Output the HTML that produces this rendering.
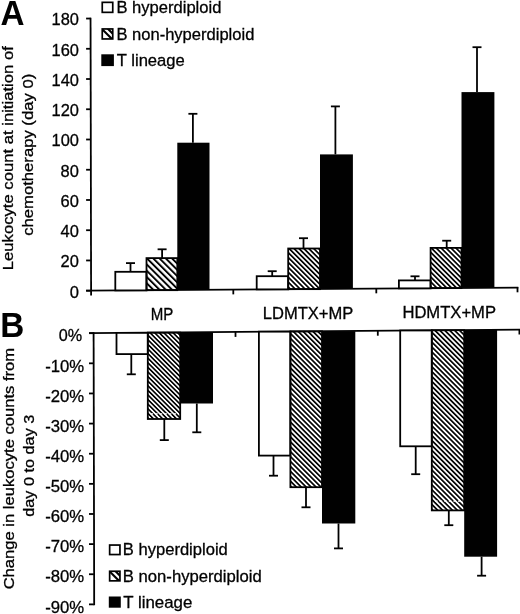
<!DOCTYPE html>
<html><head><meta charset="utf-8"><title>Figure</title>
<style>
html,body{margin:0;padding:0;background:#fff;}
body{width:520px;height:614px;overflow:hidden;}
svg{display:block;}
text{font-family:"Liberation Sans",sans-serif;font-size:16.3px;fill:#000;stroke:#000;stroke-width:0.3px;}
.big{font-size:36px;font-weight:bold;fill:#000;stroke:none;}
</style></head><body>
<svg width="520" height="614" viewBox="0 0 520 614">
<defs>
<pattern id="h" width="3.25" height="3.25" patternUnits="userSpaceOnUse" patternTransform="rotate(-45)"><rect x="0" y="0" width="1.65" height="3.25" fill="#000"/></pattern>
<pattern id="h2" width="3.48" height="3.48" patternUnits="userSpaceOnUse" patternTransform="rotate(-45)"><rect x="0" y="0" width="1.7" height="3.48" fill="#000"/></pattern>
<pattern id="h3" width="4.43" height="4.43" patternUnits="userSpaceOnUse" patternTransform="rotate(-45)"><rect x="0" y="0" width="1.95" height="4.43" fill="#000"/></pattern>
<pattern id="hs" width="3.6" height="3.6" patternUnits="userSpaceOnUse" patternTransform="rotate(-45) translate(0.6,0)"><rect x="0" y="0" width="1.7" height="3.6" fill="#000"/></pattern>
</defs>
<rect width="520" height="614" fill="#fff"/>
<g opacity="0.999">

<g stroke="#000" stroke-width="1.8" fill="none">
<line x1="90.55" y1="17.640000000000022" x2="91.1" y2="295.4"/>
<line x1="86.1" y1="290.7" x2="90.8" y2="290.7"/>
<line x1="86.1" y1="260.46" x2="90.8" y2="260.46"/>
<line x1="86.1" y1="230.22" x2="90.8" y2="230.22"/>
<line x1="86.1" y1="199.98" x2="90.8" y2="199.98"/>
<line x1="86.1" y1="169.74" x2="90.8" y2="169.74"/>
<line x1="86.1" y1="139.5" x2="90.8" y2="139.5"/>
<line x1="86.1" y1="109.25999999999999" x2="90.8" y2="109.25999999999999"/>
<line x1="86.1" y1="79.02000000000001" x2="90.8" y2="79.02000000000001"/>
<line x1="86.1" y1="48.78" x2="90.8" y2="48.78"/>
<line x1="86.1" y1="18.54000000000002" x2="90.8" y2="18.54000000000002"/>
<line x1="86.1" y1="290.7" x2="518.3" y2="287.60"/>
<line x1="233.3" y1="289.17" x2="233.3" y2="294.37"/>
<line x1="376.3" y1="288.13" x2="376.3" y2="293.33"/>
<line x1="517.5" y1="287.11" x2="517.5" y2="292.31"/>
</g>
<g stroke="#000" stroke-width="1.8"><line x1="130.5" y1="263.1" x2="130.5" y2="271.8"/><line x1="126.0" y1="263.1" x2="135.0" y2="263.1"/></g><rect x="115.3" y="271.8" width="31.20" height="18.61" fill="#fff" stroke="#000" stroke-width="1.8"/>
<g stroke="#000" stroke-width="1.8"><line x1="162.1" y1="249.3" x2="162.1" y2="258.1"/><line x1="157.6" y1="249.3" x2="166.6" y2="249.3"/></g><rect x="146.5" y="258.1" width="30.80" height="32.08" fill="url(#h3)" stroke="#000" stroke-width="1.8"/>
<g stroke="#000" stroke-width="1.8"><line x1="192.9" y1="113.8" x2="192.9" y2="142.7"/><line x1="188.4" y1="113.8" x2="197.4" y2="113.8"/></g><rect x="177.3" y="142.7" width="32.20" height="147.26" fill="#000" stroke="none" stroke-width="1.8"/>
<g stroke="#000" stroke-width="1.8"><line x1="272.2" y1="271.2" x2="272.2" y2="276.2"/><line x1="267.7" y1="271.2" x2="276.7" y2="271.2"/></g><rect x="256.7" y="276.2" width="31.50" height="13.18" fill="#fff" stroke="#000" stroke-width="1.8"/>
<g stroke="#000" stroke-width="1.8"><line x1="303.5" y1="238.2" x2="303.5" y2="248.5"/><line x1="299.0" y1="238.2" x2="308.0" y2="238.2"/></g><rect x="288.2" y="248.5" width="31.80" height="40.65" fill="url(#h2)" stroke="#000" stroke-width="1.8"/>
<g stroke="#000" stroke-width="1.8"><line x1="335.4" y1="106.4" x2="335.4" y2="154.4"/><line x1="330.9" y1="106.4" x2="339.9" y2="106.4"/></g><rect x="320" y="154.4" width="32.90" height="134.52" fill="#000" stroke="none" stroke-width="1.8"/>
<g stroke="#000" stroke-width="1.8"><line x1="415" y1="276.3" x2="415" y2="280.4"/><line x1="410.5" y1="276.3" x2="419.5" y2="276.3"/></g><rect x="398.9" y="280.4" width="31.70" height="7.95" fill="#fff" stroke="#000" stroke-width="1.8"/>
<g stroke="#000" stroke-width="1.8"><line x1="446.7" y1="240.7" x2="446.7" y2="247.9"/><line x1="442.2" y1="240.7" x2="451.2" y2="240.7"/></g><rect x="430.6" y="247.9" width="30.90" height="40.22" fill="url(#h2)" stroke="#000" stroke-width="1.8"/>
<g stroke="#000" stroke-width="1.8"><line x1="477" y1="47.2" x2="477" y2="92.1"/><line x1="472.5" y1="47.2" x2="481.5" y2="47.2"/></g><rect x="461.5" y="92.1" width="32.90" height="195.79" fill="#000" stroke="none" stroke-width="1.8"/>
<text x="78.9" y="297.6" text-anchor="end" textLength="9.2" lengthAdjust="spacingAndGlyphs">0</text>
<text x="78.9" y="267.4" text-anchor="end" textLength="18.3" lengthAdjust="spacingAndGlyphs">20</text>
<text x="78.9" y="237.1" text-anchor="end" textLength="18.3" lengthAdjust="spacingAndGlyphs">40</text>
<text x="78.9" y="206.9" text-anchor="end" textLength="18.3" lengthAdjust="spacingAndGlyphs">60</text>
<text x="78.9" y="176.6" text-anchor="end" textLength="18.3" lengthAdjust="spacingAndGlyphs">80</text>
<text x="78.9" y="146.4" text-anchor="end" textLength="27.4" lengthAdjust="spacingAndGlyphs">100</text>
<text x="78.9" y="116.2" text-anchor="end" textLength="27.4" lengthAdjust="spacingAndGlyphs">120</text>
<text x="78.9" y="85.9" text-anchor="end" textLength="27.4" lengthAdjust="spacingAndGlyphs">140</text>
<text x="78.9" y="55.7" text-anchor="end" textLength="27.4" lengthAdjust="spacingAndGlyphs">160</text>
<text x="78.9" y="25.4" text-anchor="end" textLength="27.4" lengthAdjust="spacingAndGlyphs">180</text>
<g stroke="#000" stroke-width="1.8" fill="none">
<line x1="93.60000000000001" y1="332.3" x2="94.2" y2="605.27"/>
<line x1="89.0" y1="333.2" x2="93.9" y2="333.2"/>
<line x1="89.0" y1="363.33" x2="93.9" y2="363.33"/>
<line x1="89.0" y1="393.46" x2="93.9" y2="393.46"/>
<line x1="89.0" y1="423.59" x2="93.9" y2="423.59"/>
<line x1="89.0" y1="453.71999999999997" x2="93.9" y2="453.71999999999997"/>
<line x1="89.0" y1="483.85" x2="93.9" y2="483.85"/>
<line x1="89.0" y1="513.98" x2="93.9" y2="513.98"/>
<line x1="89.0" y1="544.11" x2="93.9" y2="544.11"/>
<line x1="89.0" y1="574.24" x2="93.9" y2="574.24"/>
<line x1="89.0" y1="604.37" x2="93.9" y2="604.37"/>
<line x1="89.0" y1="333.2" x2="520" y2="329.59"/>
<line x1="235.5" y1="331.50" x2="235.5" y2="336.90"/>
<line x1="377.8" y1="330.30" x2="377.8" y2="335.70"/>
<line x1="519.4" y1="329.10" x2="519.4" y2="334.50"/>
</g>
<g stroke="#000" stroke-width="1.8"><line x1="131.3" y1="354.1" x2="131.3" y2="374.3"/><line x1="126.80000000000001" y1="374.3" x2="135.8" y2="374.3"/></g><rect x="116.5" y="332.88" width="31.30" height="21.22" fill="#fff" stroke="#000" stroke-width="1.8"/>
<g stroke="#000" stroke-width="1.8"><line x1="164.3" y1="419" x2="164.3" y2="440.1"/><line x1="159.8" y1="440.1" x2="168.8" y2="440.1"/></g><rect x="147.8" y="332.61" width="32.40" height="86.39" fill="url(#h)" stroke="#000" stroke-width="1.8"/>
<g stroke="#000" stroke-width="1.8"><line x1="196.8" y1="403.5" x2="196.8" y2="432.3"/><line x1="192.3" y1="432.3" x2="201.3" y2="432.3"/></g><rect x="180.2" y="332.33" width="32.80" height="71.17" fill="#000" stroke="none" stroke-width="1.8"/>
<g stroke="#000" stroke-width="1.8"><line x1="273.5" y1="455.6" x2="273.5" y2="475.7"/><line x1="269.0" y1="475.7" x2="278.0" y2="475.7"/></g><rect x="258.9" y="331.67" width="31.50" height="123.93" fill="#fff" stroke="#000" stroke-width="1.8"/>
<g stroke="#000" stroke-width="1.8"><line x1="306" y1="487.2" x2="306" y2="507.3"/><line x1="301.5" y1="507.3" x2="310.5" y2="507.3"/></g><rect x="290.4" y="331.40" width="31.60" height="155.80" fill="url(#h2)" stroke="#000" stroke-width="1.8"/>
<g stroke="#000" stroke-width="1.8"><line x1="338.5" y1="523.5" x2="338.5" y2="548.4"/><line x1="334.0" y1="548.4" x2="343.0" y2="548.4"/></g><rect x="322" y="331.13" width="33.30" height="192.37" fill="#000" stroke="none" stroke-width="1.8"/>
<g stroke="#000" stroke-width="1.8"><line x1="415.7" y1="446.3" x2="415.7" y2="474.2"/><line x1="411.2" y1="474.2" x2="420.2" y2="474.2"/></g><rect x="400.2" y="330.47" width="31.60" height="115.83" fill="#fff" stroke="#000" stroke-width="1.8"/>
<g stroke="#000" stroke-width="1.8"><line x1="448.8" y1="510.4" x2="448.8" y2="525.2"/><line x1="444.3" y1="525.2" x2="453.3" y2="525.2"/></g><rect x="431.8" y="330.20" width="32.40" height="180.20" fill="url(#h2)" stroke="#000" stroke-width="1.8"/>
<g stroke="#000" stroke-width="1.8"><line x1="481.6" y1="556.7" x2="481.6" y2="575.7"/><line x1="477.1" y1="575.7" x2="486.1" y2="575.7"/></g><rect x="464.2" y="329.92" width="32.90" height="226.78" fill="#000" stroke="none" stroke-width="1.8"/>
<g stroke="#fff" stroke-width="1.3" stroke-dasharray="2.6 2"><line x1="150.5" y1="413.8" x2="179" y2="413.8"/><line x1="435" y1="501.2" x2="463" y2="501.2"/></g>
<text x="82.2" y="341.4" text-anchor="end" textLength="23.4" lengthAdjust="spacingAndGlyphs">0%</text>
<text x="84.2" y="371.5" text-anchor="end" textLength="39.0" lengthAdjust="spacingAndGlyphs">-10%</text>
<text x="84.2" y="401.7" text-anchor="end" textLength="39.0" lengthAdjust="spacingAndGlyphs">-20%</text>
<text x="84.2" y="431.8" text-anchor="end" textLength="39.0" lengthAdjust="spacingAndGlyphs">-30%</text>
<text x="84.2" y="461.9" text-anchor="end" textLength="39.0" lengthAdjust="spacingAndGlyphs">-40%</text>
<text x="84.2" y="492.1" text-anchor="end" textLength="39.0" lengthAdjust="spacingAndGlyphs">-50%</text>
<text x="84.2" y="522.2" text-anchor="end" textLength="39.0" lengthAdjust="spacingAndGlyphs">-60%</text>
<text x="84.2" y="552.3" text-anchor="end" textLength="39.0" lengthAdjust="spacingAndGlyphs">-70%</text>
<text x="84.2" y="582.4" text-anchor="end" textLength="39.0" lengthAdjust="spacingAndGlyphs">-80%</text>
<text x="84.2" y="612.6" text-anchor="end" textLength="39.0" lengthAdjust="spacingAndGlyphs">-90%</text>
<text x="162" y="320.3" text-anchor="middle" textLength="22.6" lengthAdjust="spacingAndGlyphs">MP</text>
<text x="308" y="319.2" text-anchor="middle" textLength="90.5" lengthAdjust="spacingAndGlyphs">LDMTX+MP</text>
<text x="449.2" y="317.8" text-anchor="middle" textLength="93.6" lengthAdjust="spacingAndGlyphs">HDMTX+MP</text>
<rect x="102.25" y="2.35" width="10.50" height="10.00" fill="#fff" stroke="#000" stroke-width="1.7"/>
<clipPath id="cl1"><rect x="102.25" y="28.95" width="10.50" height="10.00"/></clipPath><rect x="102.25" y="28.95" width="10.50" height="10.00" fill="#fff" stroke="none"/><g clip-path="url(#cl1)" stroke="#000" stroke-width="2.1"><line x1="97.50" y1="18.40" x2="117.50" y2="38.40"/><line x1="97.50" y1="24.55" x2="117.50" y2="44.55"/></g><rect x="102.25" y="28.95" width="10.50" height="10.00" fill="none" stroke="#000" stroke-width="1.7"/>
<rect x="102.15" y="55.15" width="10.90" height="10.10" fill="#000" stroke="#000" stroke-width="1.7"/>
<text x="116.4" y="12.9" text-anchor="start" textLength="105" lengthAdjust="spacingAndGlyphs">B hyperdiploid</text>
<text x="116.4" y="39.8" text-anchor="start" textLength="138" lengthAdjust="spacingAndGlyphs">B non-hyperdiploid</text>
<text x="116.8" y="66.0" text-anchor="start" textLength="68" lengthAdjust="spacingAndGlyphs">T lineage</text>
<rect x="109.65" y="545.05" width="10.30" height="9.50" fill="#fff" stroke="#000" stroke-width="1.7"/>
<clipPath id="cl2"><rect x="109.65" y="571.25" width="10.30" height="9.60"/></clipPath><rect x="109.65" y="571.25" width="10.30" height="9.60" fill="#fff" stroke="none"/><g clip-path="url(#cl2)" stroke="#000" stroke-width="2.1"><line x1="104.80" y1="560.50" x2="124.80" y2="580.50"/><line x1="104.80" y1="566.65" x2="124.80" y2="586.65"/></g><rect x="109.65" y="571.25" width="10.30" height="9.60" fill="none" stroke="#000" stroke-width="1.7"/>
<rect x="109.65" y="597.35" width="10.30" height="9.50" fill="#000" stroke="#000" stroke-width="1.7"/>
<text x="122.8" y="555.3" text-anchor="start" textLength="105" lengthAdjust="spacingAndGlyphs">B hyperdiploid</text>
<text x="122.8" y="582.0" text-anchor="start" textLength="139" lengthAdjust="spacingAndGlyphs">B non-hyperdiploid</text>
<text x="123.3" y="608.2" text-anchor="start" textLength="69" lengthAdjust="spacingAndGlyphs">T lineage</text>
<text class="big" transform="translate(0.6,25.3) scale(0.925,1)">A</text>
<text class="big" transform="translate(0.3,337.4) scale(0.925,1)">B</text>
<text transform="translate(13.2,158.2) rotate(-90)" text-anchor="middle" style="font-size:14.6px" textLength="224" lengthAdjust="spacingAndGlyphs">Leukocyte count at initiation of</text>
<text transform="translate(33.4,154.8) rotate(-90)" text-anchor="middle" style="font-size:14.6px" textLength="162" lengthAdjust="spacingAndGlyphs">chemotherapy (day 0)</text>
<text transform="translate(13.5,468.6) rotate(-90)" text-anchor="middle" style="font-size:14.6px" textLength="241.5" lengthAdjust="spacingAndGlyphs">Change in leukocyte counts from</text>
<text transform="translate(33.6,465.7) rotate(-90)" text-anchor="middle" style="font-size:14.6px" textLength="102" lengthAdjust="spacingAndGlyphs">day 0 to day 3</text>
</g></svg></body></html>
